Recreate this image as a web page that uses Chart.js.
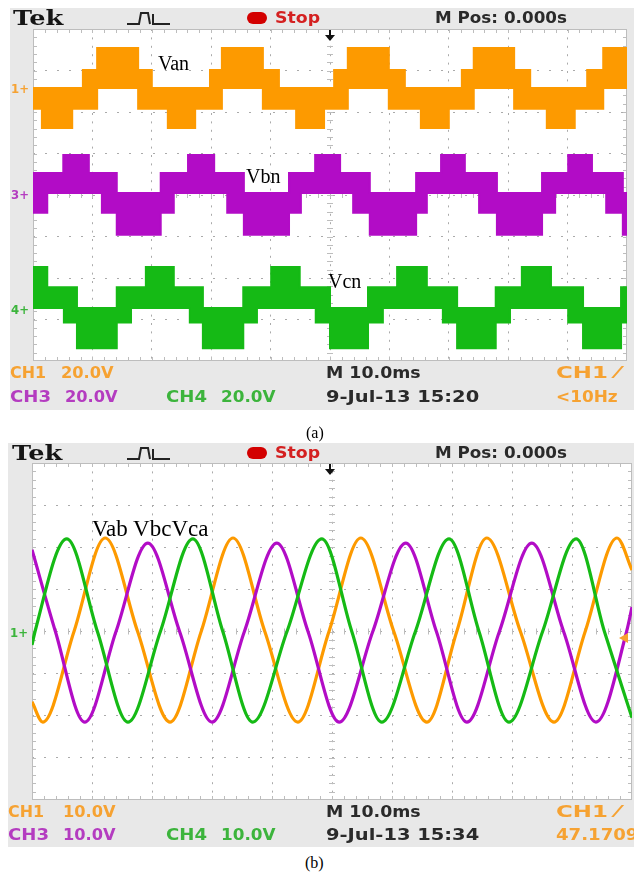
<!DOCTYPE html>
<html>
<head>
<meta charset="utf-8">
<script src="https://cdn.jsdelivr.net/npm/chart.js@4.4.1/dist/chart.umd.min.js"></script>
<style>
html, body { margin: 0; padding: 0; background: #fff; }
body { width: 634px; height: 872px; position: relative; overflow: hidden; }
.scope { position: absolute; background: #e8e8e8; }
.plot { position: absolute; background: #fff; }
.txt { position: absolute; white-space: nowrap; font: bold 15px "DejaVu Sans", sans-serif; line-height: 16px; transform-origin: 0 50%; filter: blur(0.3px); }
.lbl { position: absolute; white-space: nowrap; font: 20px "Liberation Serif", "Times New Roman", serif; color: #000; line-height: 20px; }
</style>
</head>
<body>
<div class="scope" style="left:10px;top:8px;width:624px;height:402px"></div>
<div class="scope" style="left:8px;top:443px;width:626px;height:404px"></div>
<div class="plot" style="left:33px;top:29px;width:594px;height:332px"><canvas id="chartA"></canvas></div>
<div class="plot" style="left:32px;top:463px;width:600px;height:337px"><canvas id="chartB"></canvas></div>

<svg style="position:absolute;left:126px;top:11px" width="46" height="16">
  <polyline points="1,13 13,13 15,2 22,2 24,13" fill="none" stroke="#222" stroke-width="2"/>
  <polyline points="27,3 27,13 44,13" fill="none" stroke="#222" stroke-width="2"/>
</svg>
<svg style="position:absolute;left:126px;top:446px" width="46" height="16">
  <polyline points="1,13 13,13 15,2 22,2 24,13" fill="none" stroke="#222" stroke-width="2"/>
  <polyline points="27,3 27,13 44,13" fill="none" stroke="#222" stroke-width="2"/>
</svg>
<svg style="position:absolute;left:324px;top:30px" width="12" height="12">
  <line x1="6" y1="0" x2="6" y2="10" stroke="#111" stroke-width="2"/>
  <polygon points="1,5 11,5 6,11" fill="#111"/>
</svg>
<svg style="position:absolute;left:324px;top:464px" width="12" height="12">
  <line x1="6" y1="0" x2="6" y2="10" stroke="#111" stroke-width="2"/>
  <polygon points="1,5 11,5 6,11" fill="#111"/>
</svg>
<div style="position:absolute;left:247px;top:12px;width:20px;height:12px;border-radius:6px;background:#d30000"></div>
<div style="position:absolute;left:247px;top:447px;width:20px;height:12px;border-radius:6px;background:#d30000"></div>
<svg style="position:absolute;left:619px;top:633px" width="10" height="10">
  <polygon points="0,5 9,0 9,10" fill="#f7a030"/>
</svg>

<script>
// time axis: 10 divisions x 10 ms, panel (a) 20 V/div, panel (b) 10 V/div
// panel (a): stepped phase voltages, segment start [ms], band top / bottom [V]
const vanT  = [0, 1.5, 6.6, 8.4, 10.8, 17.7, 20.0, 22.7, 27.3, 29.8, 31.8, 38.7, 41.4, 44.3, 49.0, 50.7, 53.0, 59.9, 62.6, 65.3, 70.0, 72.2, 74.2, 81.0, 83.7, 86.5, 91.2, 93.3, 96.0];
const vanHi = [0, 0, 0, 8.7, 19.3, 8.7, 0, 0, 0, 8.7, 19.3, 8.7, 0, 0, 0, 8.7, 19.3, 8.7, 0, 0, 0, 8.7, 19.3, 8.7, 0, 0, 0, 8.7, 19.3];
const vanLo = [-10, -19.3, -10, -10, 0, -10, -10, -19.3, -10, -10, 0, -10, -10, -19.3, -10, -10, 0, -10, -10, -19.3, -10, -10, 0, -10, -10, -19.3, -10, -10, 0];

const vbnT  = [0, 2.4, 5.1, 9.4, 11.6, 14.1, 21.5, 23.7, 26.1, 30.5, 32.7, 35.5, 43.1, 45.1, 47.5, 51.7, 53.9, 56.7, 64.5, 66.3, 68.7, 72.7, 75.1, 78.1, 85.7, 87.9, 90.1, 94.1, 96.5, 99.3];
const vbnHi = [9.6, 9.6, 18.3, 9.6, 9.6, 0, 9.6, 9.6, 18.3, 9.6, 9.6, 0, 9.6, 9.6, 18.3, 9.6, 9.6, 0, 9.6, 9.6, 18.3, 9.6, 9.6, 0, 9.6, 9.6, 18.3, 9.6, 9.6, 0];
const vbnLo = [-9.6, 0, 0, 0, -9.6, -20.2, -9.6, 0, 0, 0, -9.6, -20.2, -9.6, 0, 0, 0, -9.6, -20.2, -9.6, 0, 0, 0, -9.6, -20.2, -9.6, 0, 0, 0, -9.6, -20.2];

const vcnT  = [0, 2.4, 5.2, 7.4, 14.1, 16.5, 19.0, 23.7, 26.4, 28.6, 35.4, 37.7, 40.1, 44.9, 47.6, 50.0, 56.4, 58.9, 61.3, 66.3, 69.0, 71.4, 77.9, 80.3, 82.3, 87.2, 90.1, 92.6, 99.0];
const vcnHi = [19.8, 10.1, 10.1, 0, 10.1, 10.1, 19.8, 10.1, 10.1, 0, 10.1, 10.1, 19.8, 10.1, 10.1, 0, 10.1, 10.1, 19.8, 10.1, 10.1, 0, 10.1, 10.1, 19.8, 10.1, 10.1, 0, 10.1];
const vcnLo = [0, 0, -7, -19.3, -7, 0, 0, 0, -7, -19.3, -7, 0, 0, 0, -7, -19.3, -7, 0, 0, 0, -7, -19.3, -7, 0, 0, 0, -7, -19.3, -7];

// channel ground levels on screen (a), volts from screen centre
const groundA = { van: 51.6, vbn: 1.0, vcn: -54.5 };

// panel (b): line voltages, peaks / zero crossings [ms] and [V]
const vabT = [0, 1.8, 7.0, 12.2, 17.6, 23.0, 28.2, 33.5, 38.8, 44.3, 49.5, 54.8, 60.3, 65.8, 70.8, 75.8, 81.4, 87.0, 92.2, 97.5, 100];
const vabV = [-16.7, -21.5, 0, 22.2, 0, -21.5, 0, 22.2, 0, -21.5, 0, 22.2, 0, -21.5, 0, 22.2, 0, -21.5, 0, 22.2, 14.6];
const vbcT = [0, 3.9, 8.8, 14.0, 19.3, 24.6, 30.0, 35.4, 40.8, 46.0, 51.2, 56.8, 62.3, 67.4, 72.5, 77.9, 83.3, 88.6, 94.0, 99.1, 100];
const vbcV = [19.4, 0, -21.5, 0, 21.0, 0, -21.5, 0, 21.0, 0, -21.5, 0, 21.0, 0, -21.5, 0, 21.0, 0, -21.5, 0, 5.8];
const vcaT = [0, 0.5, 5.8, 10.9, 16.0, 21.4, 26.8, 31.8, 36.8, 42.5, 48.3, 53.3, 58.3, 63.9, 69.5, 74.5, 79.5, 85.1, 90.7, 95.4, 100];
const vcaV = [-3.2, 0, 22.0, 0, -21.5, 0, 22.0, 0, -21.5, 0, 22.0, 0, -21.5, 0, 22.0, 0, -21.5, 0, 22.0, 0, -20.5];

const ORANGE = '#fd9a00', MAGENTA = '#b20cc6', GREEN = '#15ba15';

function steps(times, vals, offset) {
    const pts = times.map((t, i) => ({ x: t, y: vals[i] + offset }));
    pts.push({ x: 100, y: vals[vals.length - 1] + offset });
    return pts;
}

function band(times, hi, lo, offset, color) {
    return [
        { data: steps(times, hi, offset), borderColor: color, borderWidth: 2, stepped: true, pointRadius: 0, fill: false },
        { data: steps(times, lo, offset), borderColor: color, borderWidth: 2, stepped: true, pointRadius: 0, fill: '-1', backgroundColor: color }
    ];
}

function wave(times, vals, color) {
    return {
        data: times.map((t, i) => ({ x: t, y: vals[i] })),
        borderColor: color, borderWidth: 3.2, pointRadius: 0,
        cubicInterpolationMode: 'monotone', fill: false
    };
}

// scope frame + minor ticks along border and centre lines
const scopeGrid = {
    id: 'scopeGrid',
    beforeDatasetsDraw(chart, args, opts) {
        const { ctx, chartArea: a, scales: { x, y } } = chart;
        const xc = x.getPixelForValue((x.min + x.max) / 2);
        const yc = y.getPixelForValue((y.min + y.max) / 2);
        ctx.save();
        ctx.strokeStyle = '#bdbdbd';
        ctx.lineWidth = 1;
        ctx.strokeRect(a.left + 0.5, a.top + 0.5, a.width - 1, a.height - 1);
        ctx.beginPath();
        const xs = opts.xStep / 5, ys = opts.yStep / 5;
        for (let v = x.min; v <= x.max + 1e-6; v += xs) {
            const p = Math.round(x.getPixelForValue(v)) + 0.5;
            ctx.moveTo(p, a.top); ctx.lineTo(p, a.top + 4);
            ctx.moveTo(p, a.bottom); ctx.lineTo(p, a.bottom - 4);
            ctx.moveTo(p, yc - 3); ctx.lineTo(p, yc + 3);
        }
        for (let v = y.min; v <= y.max + 1e-6; v += ys) {
            const p = Math.round(y.getPixelForValue(v)) + 0.5;
            ctx.moveTo(a.left, p); ctx.lineTo(a.left + 4, p);
            ctx.moveTo(a.right, p); ctx.lineTo(a.right - 4, p);
            ctx.moveTo(xc - 3, p); ctx.lineTo(xc + 3, p);
        }
        ctx.stroke();
        ctx.restore();
    }
};

function scopeOptions(yMax, yStep) {
    return {
        responsive: true,
        maintainAspectRatio: false,
        animation: false,
        layout: { padding: 0 },
        plugins: { legend: { display: false }, tooltip: { enabled: false }, scopeGrid: { xStep: 10, yStep: yStep } },
        scales: {
            x: {
                type: 'linear', min: 0, max: 100,
                ticks: { display: false, stepSize: 10 },
                grid: { color: '#aaaaaa', drawTicks: false },
                border: { display: false, dash: [2, 6.4] }
            },
            y: {
                min: -yMax, max: yMax,
                ticks: { display: false, stepSize: yStep },
                grid: { color: '#aaaaaa', drawTicks: false },
                border: { display: false, dash: [2, 10] }
            }
        }
    };
}

new Chart(document.getElementById('chartA'), {
    type: 'line',
    data: {
        datasets: [
            ...band(vanT, vanHi, vanLo, groundA.van, ORANGE),
            ...band(vbnT, vbnHi, vbnLo, groundA.vbn, MAGENTA),
            ...band(vcnT, vcnHi, vcnLo, groundA.vcn, GREEN)
        ]
    },
    options: scopeOptions(80, 20),
    plugins: [scopeGrid]
});

new Chart(document.getElementById('chartB'), {
    type: 'line',
    data: {
        datasets: [wave(vcaT, vcaV, GREEN), wave(vbcT, vbcV, MAGENTA), wave(vabT, vabV, ORANGE)]
    },
    options: scopeOptions(40, 10),
    plugins: [scopeGrid]
});

// scope screen texts
const TXT_OR = '#f6a232', TXT_MG = '#b43cc0', TXT_GR = '#3cb43c', TXT_DK = '#2a2a2a';
function put(text, left, cy, width, color, font) {
    const s = document.createElement('span');
    s.className = 'txt';
    s.textContent = text;
    s.style.color = color;
    if (font) s.style.font = font;
    document.body.appendChild(s);
    const h = s.offsetHeight;
    s.style.left = left + 'px';
    s.style.top = (cy - h / 2) + 'px';
    if (width) s.style.transform = 'scaleX(' + (width / s.offsetWidth) + ')';
    return s;
}
function label(text, left, baseline, size) {
    const s = document.createElement('span');
    s.className = 'lbl';
    s.textContent = text;
    s.style.fontSize = size + 'px';
    s.style.left = left + 'px';
    s.style.top = (baseline - size * 0.82) + 'px';
    document.body.appendChild(s);
}

[[18, 373, 397, '20.0V', '15:20', '<10Hz'], [453, 812, 835, '10.0V', '15:34', '47.1709']].forEach(([hy, r1, r2, vdiv, clock, freq], k) => {
    const lx = k ? 12 : 13;
    put('Tek', lx, hy, 50, '#151515', 'bold 20px "DejaVu Serif", serif');
    put('Stop', 275, hy, 45, '#d42020');
    put('M Pos: 0.000s', 435, hy, 132, TXT_DK);
    put('CH1', k ? 8 : 10, r1, 36, TXT_OR);
    put(vdiv, k ? 63 : 61, r1, 53, TXT_OR);
    put('M 10.0ms', 326, r1, 95, TXT_DK);
    put('CH1 ⁄', 556, r1, 64, TXT_OR);
    put('CH3', k ? 8 : 10, r2, 41, TXT_MG);
    put(vdiv, k ? 63 : 65, r2, 53, TXT_MG);
    put('CH4', 166, r2, 41, TXT_GR);
    put(vdiv, 221, r2, 55, TXT_GR);
    put('9-Jul-13 ' + clock, 326, r2, 153, TXT_DK);
    put(freq, 556, r2, k ? 82 : 62, TXT_OR);
});

// channel ground markers
put('1+', 11, 88, 18, TXT_OR, 'bold 13px "DejaVu Sans", sans-serif');
put('3+', 11, 194, 18, TXT_MG, 'bold 13px "DejaVu Sans", sans-serif');
put('4+', 11, 309, 18, TXT_GR, 'bold 13px "DejaVu Sans", sans-serif');
put('1+', 10, 632, 18, TXT_GR, 'bold 13px "DejaVu Sans", sans-serif');

label('Van', 158, 69, 20);
label('Vbn', 246, 182, 20);
label('Vcn', 328, 287, 20);
label('Vab VbcVca', 92, 538, 23);
label('(a)', 306, 436, 16);
label('(b)', 305, 866, 16);
</script>
</body>
</html>
